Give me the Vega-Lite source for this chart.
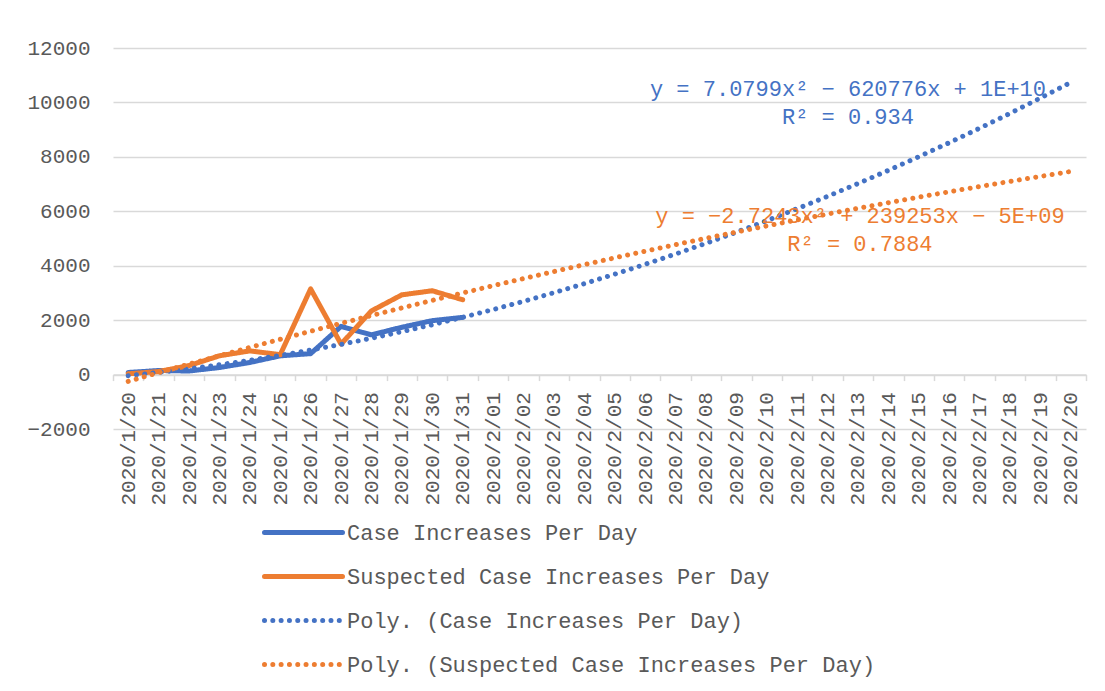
{
  "$schema": "https://vega.github.io/schema/vega-lite/v6.json",
  "width": 973,
  "height": 381,
  "autosize": {"type": "none"},
  "padding": {"left": 113, "top": 48, "right": 19, "bottom": 262},
  "background": "white",
  "config": {
    "view": {"stroke": null},
    "font": "Liberation Mono",
    "legend": {
      "title": null,
      "orient": "none",
      "legendX": 168.5,
      "legendY": 462.5,
      "direction": "vertical",
      "symbolType": "M-2,0H2",
      "symbolSize": 1521,
      "labelFont": "Liberation Mono",
      "labelFontSize": 22,
      "labelColor": "#595959",
      "labelOffset": 21.5,
      "labelLimit": 0,
      "rowPadding": 11,
      "padding": 0
    }
  },
  "datasets": {
    "series": [
      {"d": "2020/1/20", "s": "Case Increases Per Day", "v": 77},
      {"d": "2020/1/21", "s": "Case Increases Per Day", "v": 149},
      {"d": "2020/1/22", "s": "Case Increases Per Day", "v": 131},
      {"d": "2020/1/23", "s": "Case Increases Per Day", "v": 259},
      {"d": "2020/1/24", "s": "Case Increases Per Day", "v": 444},
      {"d": "2020/1/25", "s": "Case Increases Per Day", "v": 688},
      {"d": "2020/1/26", "s": "Case Increases Per Day", "v": 769},
      {"d": "2020/1/27", "s": "Case Increases Per Day", "v": 1771},
      {"d": "2020/1/28", "s": "Case Increases Per Day", "v": 1459},
      {"d": "2020/1/29", "s": "Case Increases Per Day", "v": 1737},
      {"d": "2020/1/30", "s": "Case Increases Per Day", "v": 1981},
      {"d": "2020/1/31", "s": "Case Increases Per Day", "v": 2102},
      {"d": "2020/1/20", "s": "Suspected Case Increases Per Day", "v": 27},
      {"d": "2020/1/21", "s": "Suspected Case Increases Per Day", "v": 110},
      {"d": "2020/1/22", "s": "Suspected Case Increases Per Day", "v": 330},
      {"d": "2020/1/23", "s": "Suspected Case Increases Per Day", "v": 690},
      {"d": "2020/1/24", "s": "Suspected Case Increases Per Day", "v": 870},
      {"d": "2020/1/25", "s": "Suspected Case Increases Per Day", "v": 730},
      {"d": "2020/1/26", "s": "Suspected Case Increases Per Day", "v": 3150},
      {"d": "2020/1/27", "s": "Suspected Case Increases Per Day", "v": 1120},
      {"d": "2020/1/28", "s": "Suspected Case Increases Per Day", "v": 2340},
      {"d": "2020/1/29", "s": "Suspected Case Increases Per Day", "v": 2930},
      {"d": "2020/1/30", "s": "Suspected Case Increases Per Day", "v": 3080},
      {"d": "2020/1/31", "s": "Suspected Case Increases Per Day", "v": 2750},
      {"d": "2020/1/20", "s": "Poly. (Case Increases Per Day)", "v": -40},
      {"d": "2020/1/21", "s": "Poly. (Case Increases Per Day)", "v": 78},
      {"d": "2020/1/22", "s": "Poly. (Case Increases Per Day)", "v": 212},
      {"d": "2020/1/23", "s": "Poly. (Case Increases Per Day)", "v": 361},
      {"d": "2020/1/24", "s": "Poly. (Case Increases Per Day)", "v": 525},
      {"d": "2020/1/25", "s": "Poly. (Case Increases Per Day)", "v": 705},
      {"d": "2020/1/26", "s": "Poly. (Case Increases Per Day)", "v": 900},
      {"d": "2020/1/27", "s": "Poly. (Case Increases Per Day)", "v": 1110},
      {"d": "2020/1/28", "s": "Poly. (Case Increases Per Day)", "v": 1335},
      {"d": "2020/1/29", "s": "Poly. (Case Increases Per Day)", "v": 1576},
      {"d": "2020/1/30", "s": "Poly. (Case Increases Per Day)", "v": 1832},
      {"d": "2020/1/31", "s": "Poly. (Case Increases Per Day)", "v": 2103},
      {"d": "2020/2/01", "s": "Poly. (Case Increases Per Day)", "v": 2389},
      {"d": "2020/2/02", "s": "Poly. (Case Increases Per Day)", "v": 2691},
      {"d": "2020/2/03", "s": "Poly. (Case Increases Per Day)", "v": 3008},
      {"d": "2020/2/04", "s": "Poly. (Case Increases Per Day)", "v": 3340},
      {"d": "2020/2/05", "s": "Poly. (Case Increases Per Day)", "v": 3688},
      {"d": "2020/2/06", "s": "Poly. (Case Increases Per Day)", "v": 4051},
      {"d": "2020/2/07", "s": "Poly. (Case Increases Per Day)", "v": 4429},
      {"d": "2020/2/08", "s": "Poly. (Case Increases Per Day)", "v": 4823},
      {"d": "2020/2/09", "s": "Poly. (Case Increases Per Day)", "v": 5231},
      {"d": "2020/2/10", "s": "Poly. (Case Increases Per Day)", "v": 5655},
      {"d": "2020/2/11", "s": "Poly. (Case Increases Per Day)", "v": 6095},
      {"d": "2020/2/12", "s": "Poly. (Case Increases Per Day)", "v": 6549},
      {"d": "2020/2/13", "s": "Poly. (Case Increases Per Day)", "v": 7019},
      {"d": "2020/2/14", "s": "Poly. (Case Increases Per Day)", "v": 7504},
      {"d": "2020/2/15", "s": "Poly. (Case Increases Per Day)", "v": 8004},
      {"d": "2020/2/16", "s": "Poly. (Case Increases Per Day)", "v": 8520},
      {"d": "2020/2/17", "s": "Poly. (Case Increases Per Day)", "v": 9051},
      {"d": "2020/2/18", "s": "Poly. (Case Increases Per Day)", "v": 9597},
      {"d": "2020/2/19", "s": "Poly. (Case Increases Per Day)", "v": 10159},
      {"d": "2020/2/20", "s": "Poly. (Case Increases Per Day)", "v": 10735},
      {"d": "2020/1/20", "s": "Poly. (Suspected Case Increases Per Day)", "v": -250},
      {"d": "2020/1/21", "s": "Poly. (Suspected Case Increases Per Day)", "v": 69},
      {"d": "2020/1/22", "s": "Poly. (Suspected Case Increases Per Day)", "v": 383},
      {"d": "2020/1/23", "s": "Poly. (Suspected Case Increases Per Day)", "v": 692},
      {"d": "2020/1/24", "s": "Poly. (Suspected Case Increases Per Day)", "v": 997},
      {"d": "2020/1/25", "s": "Poly. (Suspected Case Increases Per Day)", "v": 1296},
      {"d": "2020/1/26", "s": "Poly. (Suspected Case Increases Per Day)", "v": 1592},
      {"d": "2020/1/27", "s": "Poly. (Suspected Case Increases Per Day)", "v": 1883},
      {"d": "2020/1/28", "s": "Poly. (Suspected Case Increases Per Day)", "v": 2168},
      {"d": "2020/1/29", "s": "Poly. (Suspected Case Increases Per Day)", "v": 2450},
      {"d": "2020/1/30", "s": "Poly. (Suspected Case Increases Per Day)", "v": 2726},
      {"d": "2020/1/31", "s": "Poly. (Suspected Case Increases Per Day)", "v": 2998},
      {"d": "2020/2/01", "s": "Poly. (Suspected Case Increases Per Day)", "v": 3266},
      {"d": "2020/2/02", "s": "Poly. (Suspected Case Increases Per Day)", "v": 3528},
      {"d": "2020/2/03", "s": "Poly. (Suspected Case Increases Per Day)", "v": 3787},
      {"d": "2020/2/04", "s": "Poly. (Suspected Case Increases Per Day)", "v": 4040},
      {"d": "2020/2/05", "s": "Poly. (Suspected Case Increases Per Day)", "v": 4289},
      {"d": "2020/2/06", "s": "Poly. (Suspected Case Increases Per Day)", "v": 4533},
      {"d": "2020/2/07", "s": "Poly. (Suspected Case Increases Per Day)", "v": 4772},
      {"d": "2020/2/08", "s": "Poly. (Suspected Case Increases Per Day)", "v": 5007},
      {"d": "2020/2/09", "s": "Poly. (Suspected Case Increases Per Day)", "v": 5237},
      {"d": "2020/2/10", "s": "Poly. (Suspected Case Increases Per Day)", "v": 5462},
      {"d": "2020/2/11", "s": "Poly. (Suspected Case Increases Per Day)", "v": 5683},
      {"d": "2020/2/12", "s": "Poly. (Suspected Case Increases Per Day)", "v": 5899},
      {"d": "2020/2/13", "s": "Poly. (Suspected Case Increases Per Day)", "v": 6110},
      {"d": "2020/2/14", "s": "Poly. (Suspected Case Increases Per Day)", "v": 6317},
      {"d": "2020/2/15", "s": "Poly. (Suspected Case Increases Per Day)", "v": 6519},
      {"d": "2020/2/16", "s": "Poly. (Suspected Case Increases Per Day)", "v": 6717},
      {"d": "2020/2/17", "s": "Poly. (Suspected Case Increases Per Day)", "v": 6909},
      {"d": "2020/2/18", "s": "Poly. (Suspected Case Increases Per Day)", "v": 7098},
      {"d": "2020/2/19", "s": "Poly. (Suspected Case Increases Per Day)", "v": 7281},
      {"d": "2020/2/20", "s": "Poly. (Suspected Case Increases Per Day)", "v": 7463}
    ],
    "labels": [
      {"d": "2020/2/13", "v": 10504, "t": "y = 7.0799x² − 620776x + 1E+10", "g": "case"},
      {"d": "2020/2/13", "v": 9474, "t": "R² = 0.934", "g": "case"},
      {"d": "2020/2/13", "v": 5816, "t": "y = −2.7243x² + 239253x − 5E+09", "g": "suspected"},
      {"d": "2020/2/13", "v": 4805, "t": "R² = 0.7884", "g": "suspected"}
    ]
  },
  "encoding": {
    "x": {
      "field": "d",
      "type": "ordinal",
      "bandPosition": 0.5,
      "scale": {
        "type": "band",
        "paddingInner": 0,
        "paddingOuter": 0,
        "domain": ["2020/1/20", "2020/1/21", "2020/1/22", "2020/1/23", "2020/1/24", "2020/1/25", "2020/1/26", "2020/1/27", "2020/1/28", "2020/1/29", "2020/1/30", "2020/1/31", "2020/2/01", "2020/2/02", "2020/2/03", "2020/2/04", "2020/2/05", "2020/2/06", "2020/2/07", "2020/2/08", "2020/2/09", "2020/2/10", "2020/2/11", "2020/2/12", "2020/2/13", "2020/2/14", "2020/2/15", "2020/2/16", "2020/2/17", "2020/2/18", "2020/2/19", "2020/2/20"]
      },
      "axis": {
        "title": null,
        "labelAngle": 270,
        "tickBand": "extent",
        "offset": -54.4,
        "grid": false,
        "domainColor": "#D9D9D9",
        "domainWidth": 1.5,
        "tickColor": "#D9D9D9",
        "tickWidth": 1.5,
        "tickSize": 6,
        "labelPadding": 11,
        "labelFont": "Liberation Mono",
        "labelFontSize": 21,
        "labelColor": "#595959",
        "labelOverlap": false
      }
    },
    "y": {
      "field": "v",
      "type": "quantitative",
      "scale": {"domain": [-2000, 12000], "nice": false, "zero": false},
      "axis": {
        "title": null,
        "values": [-2000, 0, 2000, 4000, 6000, 8000, 10000, 12000],
        "format": "d",
        "domain": false,
        "ticks": false,
        "grid": true,
        "gridColor": "#D9D9D9",
        "gridWidth": 1.5,
        "labelFont": "Liberation Mono",
        "labelFontSize": 21,
        "labelColor": "#595959",
        "labelPadding": 23
      }
    }
  },
  "layer": [
    {
      "data": {"name": "series"},
      "mark": {"type": "line", "strokeCap": "round", "strokeJoin": "round"},
      "encoding": {
        "color": {
          "field": "s",
          "type": "nominal",
          "scale": {
            "domain": ["Case Increases Per Day", "Suspected Case Increases Per Day", "Poly. (Case Increases Per Day)", "Poly. (Suspected Case Increases Per Day)"],
            "range": ["#4472C4", "#ED7D31", "#4472C4", "#ED7D31"]
          },
          "legend": {"encode": {"symbols": {"update": {"strokeCap": {"value": "round"}}}}}
        },
        "strokeDash": {
          "field": "s",
          "type": "nominal",
          "scale": {
            "domain": ["Case Increases Per Day", "Suspected Case Increases Per Day", "Poly. (Case Increases Per Day)", "Poly. (Suspected Case Increases Per Day)"],
            "range": [[1, 0], [1, 0], [0.01, 8.3], [0.01, 8.3]]
          }
        },
        "strokeWidth": {
          "field": "s",
          "type": "nominal",
          "scale": {
            "domain": ["Case Increases Per Day", "Suspected Case Increases Per Day", "Poly. (Case Increases Per Day)", "Poly. (Suspected Case Increases Per Day)"],
            "range": [5, 5, 3.5, 3.5]
          }
        }
      }
    },
    {
      "data": {"name": "labels"},
      "transform": [{"filter": "datum.g === 'case'"}],
      "mark": {"type": "text", "font": "Liberation Mono", "fontSize": 22, "color": "#4472C4", "align": "center", "baseline": "middle", "dx": -10},
      "encoding": {"text": {"field": "t"}}
    },
    {
      "data": {"name": "labels"},
      "transform": [{"filter": "datum.g === 'suspected'"}],
      "mark": {"type": "text", "font": "Liberation Mono", "fontSize": 22, "color": "#ED7D31", "align": "center", "baseline": "middle", "dx": 2},
      "encoding": {"text": {"field": "t"}}
    }
  ]
}
